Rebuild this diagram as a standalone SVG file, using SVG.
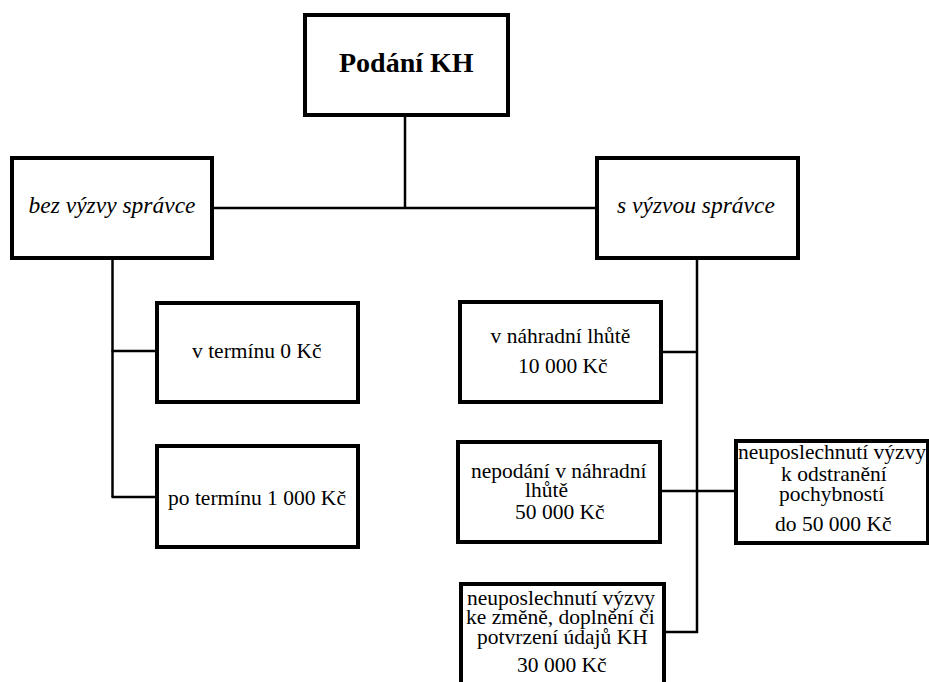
<svg xmlns="http://www.w3.org/2000/svg" width="929" height="682" viewBox="0 0 929 682">
<rect width="929" height="682" fill="#fff"/>
<g id="connectors" stroke="#000" stroke-width="2.5" fill="none">
<line x1="405" y1="117" x2="405" y2="208"/>
<line x1="213" y1="208" x2="596" y2="208"/>
<line x1="112.5" y1="259" x2="112.5" y2="497"/>
<line x1="111.5" y1="351" x2="156" y2="351"/>
<line x1="111.5" y1="497" x2="156" y2="497"/>
<line x1="697" y1="259" x2="697" y2="633"/>
<line x1="662" y1="352" x2="698" y2="352"/>
<line x1="661" y1="491" x2="735" y2="491"/>
<line x1="665" y1="632" x2="698" y2="632"/>
</g>
<g id="podani">
<rect x="305" y="15" width="203" height="100" fill="#fff" stroke="#000" stroke-width="4"/>
<text x="339" y="72" font-family="Liberation Serif" style="font-family:'Liberation Serif',serif !important;font-size:28px;font-weight:bold">Podání KH</text>
</g>
<g id="bez">
<rect x="12" y="158" width="200" height="100" fill="#fff" stroke="#000" stroke-width="4"/>
<text x="28.5" y="213" font-family="Liberation Serif" style="font-family:'Liberation Serif',serif !important;font-size:23.5px;font-style:italic">bez výzvy správce</text>
</g>
<g id="s">
<rect x="597" y="158" width="201" height="100" fill="#fff" stroke="#000" stroke-width="4"/>
<text x="617" y="213" font-family="Liberation Serif" style="font-family:'Liberation Serif',serif !important;font-size:23.5px;font-style:italic">s výzvou správce</text>
</g>
<g id="vterminu">
<rect x="157" y="303" width="201" height="99" fill="#fff" stroke="#000" stroke-width="4"/>
<text x="192" y="358" font-family="Liberation Serif" style="font-family:'Liberation Serif',serif !important;font-size:21.5px">v termínu 0 Kč</text>
</g>
<g id="poterminu">
<rect x="157" y="446" width="201" height="101" fill="#fff" stroke="#000" stroke-width="4"/>
<text x="168" y="505" font-family="Liberation Serif" style="font-family:'Liberation Serif',serif !important;font-size:21.5px">po termínu 1 000 Kč</text>
</g>
<g id="vnahradni">
<rect x="460" y="302" width="201" height="100" fill="#fff" stroke="#000" stroke-width="4"/>
<text x="490.5" y="343" font-family="Liberation Serif" style="font-family:'Liberation Serif',serif !important;font-size:21.5px">v náhradní lhůtě</text>
<text x="518" y="373" font-family="Liberation Serif" style="font-family:'Liberation Serif',serif !important;font-size:21.5px">10 000 Kč</text>
</g>
<g id="nepodani">
<rect x="458" y="442" width="202" height="100" fill="#fff" stroke="#000" stroke-width="4"/>
<text x="471" y="478" font-family="Liberation Serif" style="font-family:'Liberation Serif',serif !important;font-size:21.5px">nepodání v náhradní</text>
<text x="525" y="497" font-family="Liberation Serif" style="font-family:'Liberation Serif',serif !important;font-size:21.5px">lhůtě</text>
<text x="515" y="519" font-family="Liberation Serif" style="font-family:'Liberation Serif',serif !important;font-size:21.5px">50 000 Kč</text>
</g>
<g id="pochybnosti">
<rect x="736" y="441" width="192" height="102" fill="#fff" stroke="#000" stroke-width="4"/>
<text x="738" y="459" font-family="Liberation Serif" style="font-family:'Liberation Serif',serif !important;font-size:21.5px">neuposlechnutí výzvy</text>
<text x="781" y="481" font-family="Liberation Serif" style="font-family:'Liberation Serif',serif !important;font-size:21.5px">k odstranění</text>
<text x="779" y="501" font-family="Liberation Serif" style="font-family:'Liberation Serif',serif !important;font-size:21.5px">pochybností</text>
<text x="775" y="531" font-family="Liberation Serif" style="font-family:'Liberation Serif',serif !important;font-size:21.5px">do 50 000 Kč</text>
</g>
<g id="zmena">
<rect x="461" y="584" width="203" height="110" fill="#fff" stroke="#000" stroke-width="4"/>
<text x="467" y="605" font-family="Liberation Serif" style="font-family:'Liberation Serif',serif !important;font-size:21.5px">neuposlechnutí výzvy</text>
<text x="466" y="624" font-family="Liberation Serif" style="font-family:'Liberation Serif',serif !important;font-size:21.5px">ke změně, doplnění či</text>
<text x="477" y="644" font-family="Liberation Serif" style="font-family:'Liberation Serif',serif !important;font-size:21.5px">potvrzení údajů KH</text>
<text x="517" y="672" font-family="Liberation Serif" style="font-family:'Liberation Serif',serif !important;font-size:21.5px">30 000 Kč</text>
</g>
</svg>
